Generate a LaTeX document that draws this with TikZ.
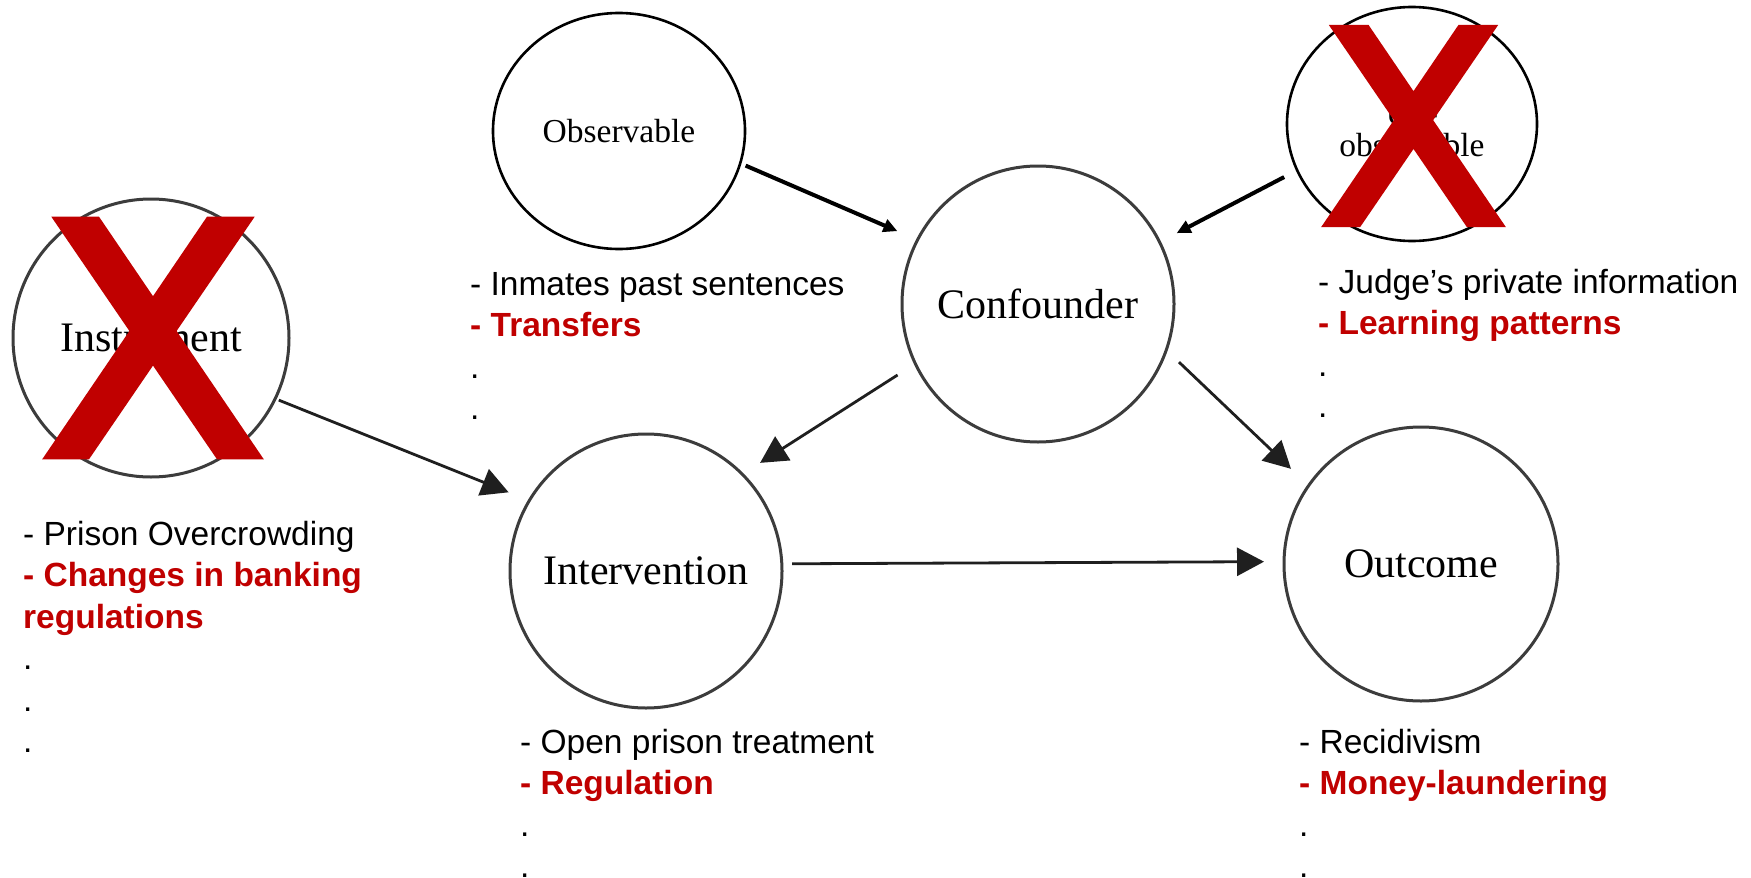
\documentclass[tikz,border=0pt]{standalone}
\usepackage{fontspec}
\setmainfont{Liberation Sans}
\newfontfamily\tnr{Liberation Serif}
\usetikzlibrary{arrows.meta,shapes.geometric}
\definecolor{xred}{HTML}{C00000}
\definecolor{circgray}{HTML}{3C3C3C}
\begin{document}
\begin{tikzpicture}[x=1pt,y=-1pt,
  bigc/.style={ellipse, draw=circgray, line width=3pt, inner sep=-40pt,
    font=\tnr\fontsize{42}{48}\selectfont},
  smallc/.style={ellipse, draw=black, line width=2.6pt, inner sep=-40pt,
    font=\tnr\fontsize{33.5}{32}\selectfont},
  heavy/.style={-{Triangle[length=27pt,width=28pt]}, line width=2.8pt, draw=black!88, fill=black!88},
  light/.style={-{Triangle[length=14pt,width=13pt]}, line width=4pt, draw=black},
  note/.style={anchor=base west, inner sep=0pt, font=\fontsize{33.5}{41.5}\selectfont},
  redx/.pic={\fill[xred] (-101.7,-242.6) -- (-54,-242.6) -- (0,-163.1) -- (54,-242.6) -- (101.7,-242.6)
      -- (23.6,-128.3) -- (110.8,0) -- (64,0) -- (0,-93.7) -- (-64,0) -- (-110.8,0) -- (-23.6,-128.3) -- cycle;}
]
\fill[white] (0,0) rectangle (1751,878);
\useasboundingbox (0,0) rectangle (1751,878);

% circles
\node[smallc, minimum width=252pt, minimum height=236pt] (obs) at (619,131) {Observable};
\node[smallc, minimum width=250pt, minimum height=234pt] (unobs) at (1412,124) {};
\node[inner sep=0pt, align=center, font=\tnr\fontsize{33.5}{32}\selectfont] (unobslab) at (1412,130) {Un-\\observable};
\node[bigc, minimum width=276pt, minimum height=278pt] (ins) at (151,338) {Instrument};
\node[bigc, minimum width=272pt, minimum height=276pt] (conf) at (1038,304) {Confounder};
\node[bigc, minimum width=272pt, minimum height=274pt] (int) at (646,571) {Intervention};
\node[bigc, minimum width=274pt, minimum height=274pt] (out) at (1421,564) {Outcome};

% arrows
\draw[light, shorten <=4.6pt, shorten >=20.5pt] (obs.-15) -- (conf.152.2);
\draw[light, shorten <=13.4pt, shorten >=17.8pt] (unobs.202.2) -- (conf.27.9);
\draw[heavy, shorten <=19.6pt, shorten >=19.6pt] (conf.206.8) -- (int.45.7);
\draw[heavy, shorten <=16pt, shorten >=22.8pt] (conf.-20.6) -- (out.145.1);
\draw[heavy, shorten <=2.4pt, shorten >=20.8pt] (ins.-26.3) -- (int.149.5);
\draw[heavy, shorten <=8.7pt, shorten >=18.5pt] (int.3.36) -- (out.179.6);

% crosses
\pic (xins) at (153,459.3) {redx};
\pic[scale=0.833] (xunobs) at (1413.5,227) {redx};

% notes
\node[note] (insnote) at (23,545) {\begin{tabular}[t]{@{}l@{}}- Prison Overcrowding\\
  \textcolor{xred}{\bfseries - Changes in banking}\\
  \textcolor{xred}{\bfseries regulations}\\ .\\ .\\ .\end{tabular}};
\node[note] (obsnote) at (470,295) {\begin{tabular}[t]{@{}l@{}}- Inmates past sentences\\
  \textcolor{xred}{\bfseries - Transfers}\\ .\\ .\end{tabular}};
\node[note] (unobsnote) at (1318,293) {\begin{tabular}[t]{@{}l@{}}- Judge’s private information\\
  \textcolor{xred}{\bfseries - Learning patterns}\\ .\\ .\end{tabular}};
\node[note] (intnote) at (520,753) {\begin{tabular}[t]{@{}l@{}}- Open prison treatment\\
  \textcolor{xred}{\bfseries - Regulation}\\ .\\ .\end{tabular}};
\node[note] (outnote) at (1299,753) {\begin{tabular}[t]{@{}l@{}}- Recidivism\\
  \textcolor{xred}{\bfseries - Money-laundering}\\ .\\ .\end{tabular}};
\end{tikzpicture}
\end{document}
